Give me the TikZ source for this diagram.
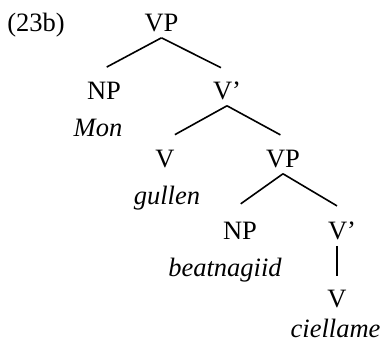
\documentclass[tikz,border=0pt]{standalone}
\usepackage{fontspec}
\setmainfont{Liberation Serif}
\usetikzlibrary{positioning}

\begin{document}
\begin{tikzpicture}[]
%% Draw tree (23b)
  \useasboundingbox (-161.5pt,-318.5pt) rectangle (224.5pt,25.5pt);
  \begin{scope}[line width=1.6pt,
       on grid,font=\fontsize{26.5}{30}\selectfont,
       cat/.style={inner xsep=6pt,inner ysep=0pt,text height=18pt,text depth=5pt},
       word/.style={cat,font=\fontsize{26.5}{30}\selectfont\itshape},
       rama/.style={shorten >=30pt},]
   \node [cat] (vp) at (0,0) {VP};
   \node [cat] (ejemplo)  [left =125.5pt of vp] {(23b)};
   \node [cat] (np)       [below left =68pt and 57.5pt of vp] {NP};
   \node [word] (mon)     [below left =37pt and 6pt of np] {Mon};
   \node [cat] (vbar)     [below right =68pt and 65.5pt of vp] {V'};
   \draw[rama] (vp.south) -- (np.north west);
   \draw[rama] (vp.south) -- (vbar.north east);
   \node [cat] (v)        [below left =68pt and 62pt of vbar] {V};
   \node [word] (gullen)  [below right =37pt and 2pt of v] {gullen};
   \node [cat] (vp2)      [below right =68pt and 56pt of vbar] {VP};
   \draw[rama] (vbar.south) -- (v.north west);
   \draw[rama] (vbar.south) -- (vp2.north east);
   \node [cat] (np2)      [below left =72pt and 43pt of vp2] {NP};
   \node [word] (beatnagiid) [below left =37pt and 15pt of np2] {beatnagiid};
   \node [cat] (vbar2)    [below right =72pt and 59pt of vp2] {V'};
   \draw[rama] (vp2.south) -- (np2.north west);
   \draw[rama] (vp2.south) -- (vbar2.north east);
   \node [cat] (v2)       [below left =68pt and 5pt of vbar2] {V};
   \node [word] (ciellame) [below left =30pt and 1.5pt of v2] {ciellame};
   \draw[shorten >=13pt] (v2.north |- vbar2.south) -- (v2.north);
  \end{scope}
\end{tikzpicture}
\end{document}
